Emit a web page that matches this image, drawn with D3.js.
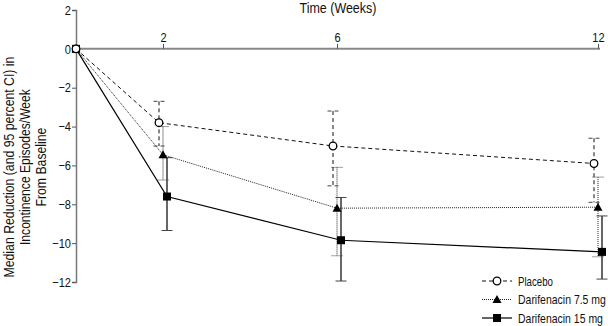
<!DOCTYPE html>
<html><head><meta charset="utf-8">
<script src="https://cdn.jsdelivr.net/npm/d3@7"></script>
<style>
body{margin:0;background:#fff;}
text{font-family:"Liberation Sans Narrow","Arial Narrow","Liberation Sans",sans-serif;fill:#111;}
</style></head>
<body><svg id="c" width="608" height="326"></svg>
<script>
const weeks = [0, 2, 6, 12];
const placeboMedian = [0, -3.8, -5.0, -5.9];
const placeboLow = [null, -5.0, -7.05, -7.9];
const placeboHigh = [null, -2.7, -3.2, -4.6];
const dari75Median = [0, -5.45, -8.2, -8.15];
const dari75Low = [null, -6.75, -10.65, -10.7];
const dari75High = [null, -4.0, -6.1, -6.6];
const dari15Median = [0, -7.6, -9.85, -10.45];
const dari15Low = [null, -9.35, -11.95, -11.85];
const dari15High = [null, -5.6, -7.65, -8.6];
const yTicks = [2, 0, -2, -4, -6, -8, -10, -12];
const xTicks = [2, 6, 12];
const legendOrder = ["Placebo", "Darifenacin 7.5 mg", "Darifenacin 15 mg"];
const yLabelLines = ["Median Reduction (and 95 percent CI) in", "Incontinence Episodes/Week", "From Baseline"];

const svg = d3.select("#c");
const x = d3.scaleLinear().domain([0, 12]).range([76, 598]);
const y = d3.scaleLinear().domain([-12, 2]).range([282, 10]);

const series = [
  {name: "Darifenacin 15 mg", med: dari15Median, lo: dari15Low, hi: dari15High, dash: null, color: "#000", width: 1.2, sym: "square", dx: 4},
  {name: "Darifenacin 7.5 mg", med: dari75Median, lo: dari75Low, hi: dari75High, dash: "1,1", color: "#222", width: 1, sym: "triangle", dx: 0},
  {name: "Placebo", med: placeboMedian, lo: placeboLow, hi: placeboHigh, dash: "4,3", color: "#111", width: 1, sym: "circle", dx: -4}
];

// draw text horizontally compressed to mimic a narrow typeface
function narrowText(parent, str, tx, ty, size, targetLen, anchor, rotate) {
  const g = parent.append("g");
  const t = g.append("text").attr("font-size", size).text(str);
  const w = t.node().getComputedTextLength();
  const sx = targetLen / w;
  const off = anchor === "middle" ? -w / 2 : anchor === "end" ? -w : 0;
  t.attr("x", off);
  g.attr("transform", `translate(${tx},${ty})${rotate ? " rotate(" + rotate + ")" : ""} scale(${sx},1)`);
  return g;
}

// Axes
const yAxis = d3.axisLeft(y).tickValues(yTicks).tickSize(4).tickFormat(d3.format("d"));
const gy = svg.append("g").attr("transform", `translate(${x(0)},0)`).call(yAxis);
gy.select(".domain").attr("stroke", "#777").attr("stroke-width", 1.5);
gy.selectAll(".tick line").attr("stroke", "#555");
gy.selectAll(".tick text").attr("font-size", 13).attr("x", -5).attr("fill", "#111")
  .style("font-family", '"Liberation Sans",sans-serif')
  .each(function() {
    const w = this.getComputedTextLength();
    d3.select(this).attr("textLength", w * 0.85).attr("lengthAdjust", "spacingAndGlyphs");
  });

const xAxis = d3.axisTop(x).tickValues(xTicks).tickSize(5).tickFormat(d3.format("d"));
const gx = svg.append("g").attr("transform", `translate(0,${y(0)})`).call(xAxis);
gx.select(".domain").attr("stroke", "#888").attr("stroke-width", 2).attr("d", `M${x(0)},0H${x(12)+2}`);
gx.selectAll(".tick line").attr("stroke", "#555");
gx.selectAll(".tick text").attr("font-size", 13).attr("y", -7).attr("fill", "#111")
  .style("font-family", '"Liberation Sans",sans-serif')
  .each(function() {
    const w = this.getComputedTextLength();
    d3.select(this).attr("textLength", w * 0.85).attr("lengthAdjust", "spacingAndGlyphs");
  });

narrowText(svg, "Time (Weeks)", 338, 13, 14, 77, "middle");

const yLabLens = [221, 156, 79];
yLabelLines.forEach((t, i) => narrowText(svg, t, 14 + i * 16, 167, 14, yLabLens[i], "middle", -90));

const px = (s, i) => x(weeks[i]) + (weeks[i] === 0 ? 0 : s.dx);

function drawSym(g, sym, cx, cy) {
  if (sym === "circle") g.append("circle").attr("cx", cx).attr("cy", cy).attr("r", 3.8).attr("fill", "#fff").attr("stroke", "#000").attr("stroke-width", 1.3);
  else if (sym === "square") g.append("rect").attr("x", cx - 4).attr("y", cy - 4).attr("width", 8).attr("height", 8).attr("fill", "#000");
  else g.append("path").attr("d", `M${cx},${cy-4.5}L${cx+4.5},${cy+3.5}L${cx-4.5},${cy+3.5}Z`).attr("fill", "#000");
}

// error bars
series.forEach(s => {
  const g = svg.append("g");
  weeks.forEach((w, i) => {
    if (s.lo[i] == null) return;
    const cx = px(s, i);
    g.append("line").attr("x1", cx).attr("x2", cx).attr("y1", y(s.hi[i])).attr("y2", y(s.lo[i]))
      .attr("stroke", s.color).attr("stroke-width", s.width).attr("stroke-dasharray", s.dash);
    [s.hi[i], s.lo[i]].forEach(v => {
      g.append("line").attr("x1", cx - 5.5).attr("x2", cx + 5.5).attr("y1", y(v)).attr("y2", y(v))
        .attr("stroke", "#444").attr("stroke-width", 1).attr("stroke-dasharray", s.dash);
    });
  });
});

// lines
series.forEach(s => {
  const line = d3.line().x((d, i) => px(s, i)).y(d => y(d));
  svg.append("path").datum(s.med).attr("d", line).attr("fill", "none")
    .attr("stroke", s.color).attr("stroke-width", s.width).attr("stroke-dasharray", s.dash);
});

// markers
series.forEach(s => {
  const g = svg.append("g");
  s.med.forEach((v, i) => drawSym(g, s.sym, px(s, i), y(v)));
});

// legend
const legendLens = [35, 88, 85];
legendOrder.forEach((n, k) => {
  const s = series.find(d => d.name === n);
  const ly = 281 + k * 18.5;
  const g = svg.append("g");
  g.append("line").attr("x1", 482).attr("x2", 512).attr("y1", ly).attr("y2", ly)
    .attr("stroke", s.color).attr("stroke-width", s.width).attr("stroke-dasharray", s.dash);
  drawSym(g, s.sym, 497, ly);
  narrowText(g, n, 518, ly + 4.5, 13, legendLens[k], "start");
});
</script></body></html>
